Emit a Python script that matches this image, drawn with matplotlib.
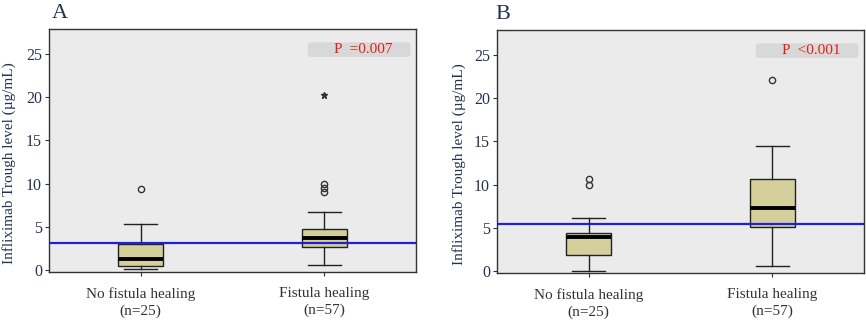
import matplotlib
matplotlib.use("Agg")
import matplotlib.pyplot as plt
from matplotlib.patches import FancyBboxPatch

plt.rcParams['font.family'] = ['Liberation Serif', 'DejaVu Serif']

categories = ["No fistula healing\n(n=25)", "Fistula healing\n(n=57)"]

# Panel A box statistics
a_whislo = [0.15, 0.58]
a_q1 = [0.46, 2.62]
a_med = [1.30, 3.70]
a_q3 = [2.97, 4.78]
a_whishi = [5.30, 6.75]
a_fliers = [[9.40], [9.00, 9.45, 9.95]]
a_extreme = [[], [20.25]]
a_cutoff = 3.15
a_p = "P  =0.007"

# Panel B box statistics
b_whislo = [0.02, 0.57]
b_q1 = [1.84, 5.05]
b_med = [3.94, 7.27]
b_q3 = [4.33, 10.60]
b_whishi = [6.16, 14.47]
b_fliers = [[9.99, 10.64], [22.05]]
b_extreme = [[], []]
b_cutoff = 5.4
b_p = "P  <0.001"

yticks = [0, 5, 10, 15, 20, 25]

navy = "#24324f"
box_fill = "#d5cf9b"
bg = "#ebebeb"

fig = plt.figure(figsize=(8.66, 3.23), dpi=100)
W, H = 866, 323

def make_ax(left, right, top, bottom):
    return fig.add_axes([left / W, 1 - bottom / H, (right - left) / W, (bottom - top) / H])

axA = make_ax(49, 416, 29, 272)
axB = make_ax(497, 864, 30, 273)

def draw(ax, whislo, q1, med, q3, whishi, fliers, extreme, cutoff, ptxt, letter, ylab_x, letter_x):
    stats = []
    for i in range(len(categories)):
        stats.append(dict(whislo=whislo[i], q1=q1[i], med=med[i], q3=q3[i],
                          whishi=whishi[i], fliers=fliers[i]))
    ax.set_facecolor(bg)
    ax.bxp(stats, positions=[1, 2], widths=0.245, patch_artist=True,
           boxprops=dict(facecolor=box_fill, edgecolor="#222222", linewidth=1.0),
           medianprops=dict(color="black", linewidth=2.8),
           whiskerprops=dict(color="#222222", linewidth=1.0),
           capprops=dict(color="#222222", linewidth=1.0),
           capwidths=0.18,
           flierprops=dict(marker="o", markersize=4.5, markerfacecolor="none",
                           markeredgecolor="#333333", markeredgewidth=1.0))
    for i, ex in enumerate(extreme):
        if ex:
            ax.plot([i + 1] * len(ex), ex, marker="*", linestyle="none",
                    color="#333333", markersize=5)
    ax.axhline(cutoff, color="#2020d8", linewidth=1.6, zorder=5)
    ax.set_xlim(0.5, 2.5)
    ax.set_ylim(-0.25, 27.9)
    ax.set_yticks(yticks)
    ax.set_xticks([1, 2])
    ax.set_xticklabels(categories, fontsize=11, color="#333333", linespacing=1.35)
    ax.tick_params(axis="y", labelsize=11.5, labelcolor=navy, length=3, width=0.8,
                   color="#333333", pad=2)
    ax.tick_params(axis="x", length=3, width=0.8, color="#333333", pad=8)
    for s in ax.spines.values():
        s.set_color("#333333")
        s.set_linewidth(1.0)
    ax.set_ylabel("Infliximab Trough level (µg/mL)", fontsize=11, color=navy)
    ax.yaxis.set_label_coords(ylab_x, 0.45)
    # p-value box
    bbox = FancyBboxPatch((0.705, 0.885), 0.28, 0.06, transform=ax.transAxes,
                          boxstyle="round,pad=0,rounding_size=0.01",
                          facecolor="#d8d8d8", edgecolor="none", zorder=6)
    ax.add_patch(bbox)
    ax.text(0.855, 0.915, ptxt, transform=ax.transAxes, ha="center", va="center",
            color="#e0201b", fontsize=11, zorder=7)
    ax.text(letter_x, 1.045, letter, transform=ax.transAxes, ha="left", va="baseline",
            color=navy, fontsize=16)

draw(axA, a_whislo, a_q1, a_med, a_q3, a_whishi, a_fliers, a_extreme, a_cutoff, a_p, "A", -0.09, 0.008)
draw(axB, b_whislo, b_q1, b_med, b_q3, b_whishi, b_fliers, b_extreme, b_cutoff, b_p, "B", -0.085, -0.005)

fig.savefig("out.png", dpi=100)
